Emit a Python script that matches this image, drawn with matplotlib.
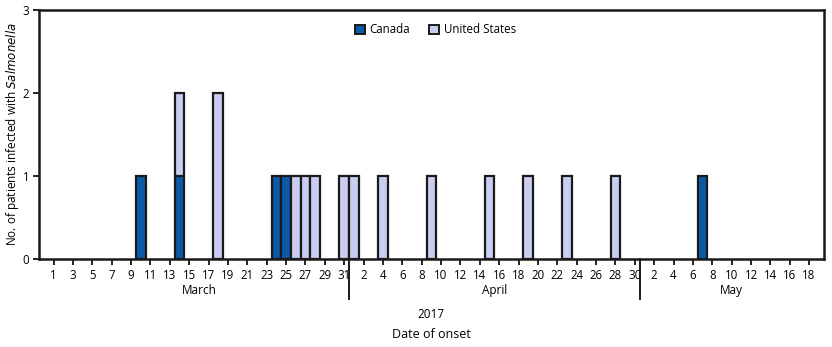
import numpy as np
import matplotlib.pyplot as plt
from matplotlib.patches import Patch

plt.rcParams['font.family'] = ['Open Sans', 'DejaVu Sans']

# onset days counted from March 1, 2017 (0 = Mar 1)
canada_days = [9, 13, 23, 24, 67]
canada_counts = [1, 1, 1, 1, 1]
us_days = [13, 17, 25, 26, 27, 30, 31, 34, 39, 45, 49, 53, 58]
us_counts = [1, 2, 1, 1, 1, 1, 1, 1, 1, 1, 1, 1, 1]

tick_pos = list(range(0, 79, 2))
tick_labels = ([str(d) for d in range(1, 32, 2)] +
               [str(d) for d in range(2, 31, 2)] +
               [str(d) for d in range(2, 19, 2)])
months = ['March', 'April', 'May']
month_centers = [15, 45.5, 70]
month_breaks = [30.5, 60.5]

canada_color = '#0a5aa8'
us_color = '#c9cdef'

fig = plt.figure(figsize=(8.32, 3.47), dpi=100)
ax = fig.add_axes([0.047, 0.254, 0.943, 0.717])

# stacked bars: Canada on the bottom, United States above
us_bottom = [1 if d in canada_days else 0 for d in us_days]
ax.bar(canada_days, canada_counts, width=1.0, color=canada_color,
       edgecolor='#1a1a1a', linewidth=1.6, zorder=3)
ax.bar(us_days, us_counts, width=1.0, bottom=us_bottom, color=us_color,
       edgecolor='#1a1a1a', linewidth=1.6, zorder=3)

ax.set_xlim(-1.5, 79.5)
ax.set_ylim(0, 3)
ax.set_yticks([0, 1, 2, 3])
ax.set_xticks(tick_pos)
ax.set_xticklabels(tick_labels)
ax.tick_params(axis='both', labelsize=8.3, width=1.2, length=4, direction='out', pad=3)
for s in ax.spines.values():
    s.set_linewidth(1.8)
    s.set_color('#1a1a1a')

fig.text(13 / 832, 0.612, 'No. of patients infected with $\\it{Salmonella}$',
         rotation=90, ha='center', va='center', fontsize=8.5)

# month separators hanging below the axis
for b in month_breaks:
    ax.plot([b, b], [0, -0.49], color='#1a1a1a', linewidth=1.4, clip_on=False)
for m, c in zip(months, month_centers):
    ax.text(c, -0.38, m, ha='center', va='center', fontsize=8.5)

ax.text(0.5, -0.225, '2017', transform=ax.transAxes, ha='center', va='center', fontsize=8.5)
ax.text(0.5, -0.305, 'Date of onset', transform=ax.transAxes, ha='center', va='center', fontsize=9)

handles = [Patch(facecolor=canada_color, edgecolor='#1a1a1a', linewidth=1.4),
           Patch(facecolor=us_color, edgecolor='#1a1a1a', linewidth=1.4)]
ax.legend(handles, ['Canada', 'United States'], loc='center', bbox_to_anchor=(0.505, 0.92),
          ncol=2, frameon=False, fontsize=8.3, handlelength=0.9, handleheight=0.9,
          handletextpad=0.4, columnspacing=1.6)

fig.savefig('out.png', dpi=100)
